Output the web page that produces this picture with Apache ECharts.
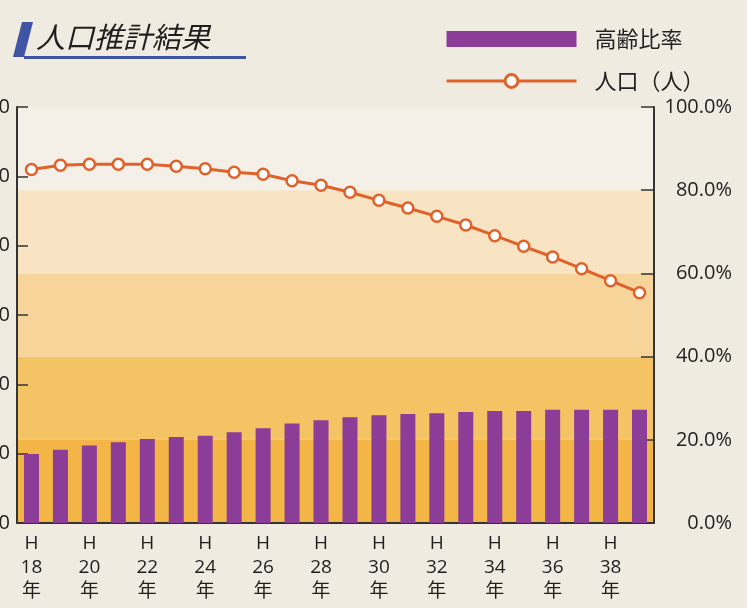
<!DOCTYPE html>
<html>
<head>
<meta charset="utf-8">
<script src="https://cdn.jsdelivr.net/npm/echarts@6/dist/echarts.min.js"></script>
<style>
html,body{margin:0;padding:0;background:#f0ebe1;}
#c{width:747px;height:608px;}
</style>
</head>
<body>
<div id="c"></div>
<script>
var categories = ['H18','H19','H20','H21','H22','H23','H24','H25','H26','H27','H28','H29','H30','H31','H32','H33','H34','H35','H36','H37','H38','H39'];
var agingRate = [16.6,17.6,18.6,19.4,20.2,20.7,21.0,21.8,22.8,23.9,24.7,25.4,25.9,26.2,26.4,26.7,26.9,26.9,27.2,27.2,27.2,27.2];
var population = [5100,5160,5175,5175,5175,5145,5110,5058,5029,4937,4871,4770,4654,4543,4423,4298,4144,3991,3837,3668,3495,3322];
var rightTicks = [0,20,40,60,80,100];
var title = '人口推計結果';
var seriesNames = ['高齢比率','人口（人）'];

var chart = echarts.init(document.getElementById('c'));
var font = '"Open Sans","Noto Sans CJK JP",sans-serif';
var cjk = '"Noto Sans CJK JP","Noto Sans",sans-serif';
chart.setOption({
  backgroundColor: '#f0ebe1',
  animation: false,
  grid: {left: 17, right: 93, top: 107, bottom: 85, show: false, containLabel: false, outerBoundsMode: 'none'},
  legend: {
    orient: 'vertical', left: 440, top: 23,
    itemWidth: 130, itemHeight: 16, itemGap: 20,
    textStyle: {fontSize: 22, color: '#222', fontFamily: cjk, padding: [0,0,0,13]},
    data: [
      {name: seriesNames[0], icon: 'rect'},
      {name: seriesNames[1], lineStyle: {width: 3, color: '#e0622a'}, itemStyle: {color: '#fff', borderColor: '#e0622a', borderWidth: 3}}
    ]
  },
  graphic: [
    {type: 'polygon', shape: {points: [[22,22],[33,22],[24,57],[13,57]]}, style: {fill: '#3f55a3'}},
    {type: 'rect', shape: {x: 24, y: 56, width: 222, height: 3}, style: {fill: '#3f55a3'}},
    {type: 'text', left: 36, top: 22, style: {text: title, fontSize: 29, fontStyle: 'italic', fontFamily: cjk, fill: '#1e1e1e'}}
  ],
  xAxis: {
    type: 'category', data: categories,
    axisLine: {lineStyle: {color: '#333', width: 2}},
    axisTick: {show: false},
    axisLabel: {
      interval: 1, color: '#1e1e1e', fontSize: 19, fontFamily: font, lineHeight: 24, margin: 9,
      formatter: function (v) { return v.charAt(0) + '\n' + v.slice(1) + '\n年'; }
    }
  },
  yAxis: [
    {
      type: 'value', min: 0, max: 6000, interval: 1000, position: 'left',
      axisLine: {show: true, lineStyle: {color: '#333', width: 2}},
      axisTick: {show: true, inside: true, length: 11, lineStyle: {color: '#333', width: 1.5}},
      splitLine: {show: false},
      axisLabel: {color: '#222', fontSize: 20, fontFamily: font, margin: 7,
        formatter: function (v) { return v.toLocaleString('en-US'); }}
    },
    {
      type: 'value', min: 0, max: 100, interval: 20, position: 'right',
      axisLine: {show: true, lineStyle: {color: '#333', width: 2}},
      axisTick: {show: true, inside: true, length: 13, lineStyle: {color: '#333', width: 1.5}},
      splitLine: {show: false},
      splitArea: {show: true, areaStyle: {color: ['#f3b545','#f4c363','#f7d59a','#f8e4c2','#f4f0e8']}},
      axisLabel: {color: '#222', fontSize: 20, fontFamily: font, margin: 78, align: 'right',
        formatter: function (v) { return v.toFixed(1) + '%'; }}
    }
  ],
  series: [
    {
      name: seriesNames[0], type: 'bar', yAxisIndex: 1, data: agingRate, barWidth: 15,
      itemStyle: {color: '#8b3d97'}
    },
    {
      name: seriesNames[1], type: 'line', yAxisIndex: 0, data: population,
      symbol: 'circle', symbolSize: 11,
      lineStyle: {color: '#e0622a', width: 3},
      itemStyle: {color: '#fff', borderColor: '#e0622a', borderWidth: 2.5}
    }
  ]
});
</script>
</body>
</html>
